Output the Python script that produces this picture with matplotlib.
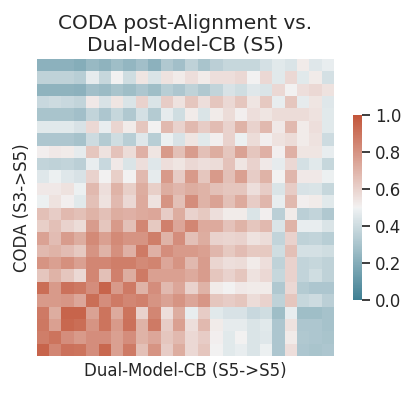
import numpy as np
import matplotlib
matplotlib.use("Agg")
import matplotlib.pyplot as plt
import seaborn as sns

title = "CODA post-Alignment vs.\nDual-Model-CB (S5)"
xlabel = "Dual-Model-CB (S5->S5)"
ylabel = "CODA (S3->S5)"

rows_left = [
    [0.22, 0.22, 0.22, 0.20, 0.25, 0.23, 0.27, 0.24, 0.28, 0.22, 0.32, 0.28],
    [0.36, 0.36, 0.36, 0.34, 0.47, 0.38, 0.50, 0.41, 0.54, 0.44, 0.55, 0.52],
    [0.23, 0.23, 0.23, 0.22, 0.28, 0.26, 0.30, 0.27, 0.31, 0.27, 0.34, 0.31],
    [0.39, 0.40, 0.39, 0.37, 0.53, 0.43, 0.54, 0.44, 0.60, 0.44, 0.62, 0.55],
    [0.30, 0.30, 0.30, 0.28, 0.37, 0.31, 0.38, 0.32, 0.42, 0.33, 0.47, 0.41],
    [0.46, 0.46, 0.46, 0.43, 0.58, 0.48, 0.59, 0.52, 0.64, 0.50, 0.68, 0.60],
    [0.31, 0.31, 0.31, 0.29, 0.40, 0.33, 0.41, 0.34, 0.45, 0.34, 0.49, 0.43],
    [0.51, 0.53, 0.52, 0.47, 0.64, 0.55, 0.65, 0.57, 0.71, 0.54, 0.78, 0.66],
    [0.37, 0.36, 0.37, 0.35, 0.48, 0.39, 0.53, 0.44, 0.56, 0.45, 0.56, 0.54],
    [0.45, 0.49, 0.45, 0.43, 0.60, 0.50, 0.61, 0.50, 0.68, 0.47, 0.78, 0.62],
    [0.53, 0.53, 0.55, 0.49, 0.68, 0.56, 0.70, 0.61, 0.72, 0.61, 0.72, 0.69],
    [0.49, 0.55, 0.51, 0.46, 0.66, 0.55, 0.68, 0.58, 0.73, 0.55, 0.80, 0.66],
    [0.66, 0.62, 0.68, 0.66, 0.70, 0.66, 0.72, 0.71, 0.73, 0.74, 0.62, 0.72],
    [0.61, 0.66, 0.60, 0.57, 0.77, 0.64, 0.78, 0.66, 0.84, 0.63, 0.86, 0.74],
    [0.75, 0.67, 0.77, 0.72, 0.83, 0.76, 0.83, 0.80, 0.80, 0.87, 0.70, 0.82],
    [0.68, 0.70, 0.67, 0.63, 0.80, 0.70, 0.81, 0.71, 0.88, 0.71, 0.82, 0.78],
    [0.80, 0.76, 0.81, 0.76, 0.84, 0.84, 0.87, 0.87, 0.83, 0.85, 0.74, 0.80],
    [0.64, 0.70, 0.64, 0.58, 0.84, 0.66, 0.86, 0.72, 0.88, 0.76, 0.76, 0.76],
    [0.92, 0.78, 0.91, 0.89, 0.82, 0.95, 0.78, 0.88, 0.70, 0.82, 0.68, 0.74],
    [0.78, 0.78, 0.79, 0.74, 0.92, 0.82, 0.88, 0.84, 0.86, 0.80, 0.75, 0.80],
    [0.88, 0.72, 0.95, 0.95, 0.75, 0.90, 0.73, 0.90, 0.60, 0.84, 0.56, 0.72],
    [0.89, 0.76, 0.94, 0.92, 0.80, 0.90, 0.78, 0.91, 0.70, 0.88, 0.62, 0.76],
    [0.87, 0.90, 0.82, 0.78, 0.82, 0.82, 0.76, 0.82, 0.70, 0.74, 0.64, 0.68],
    [0.95, 0.84, 0.91, 0.90, 0.82, 0.94, 0.76, 0.88, 0.66, 0.80, 0.62, 0.72],
]
rows_right = [
    [0.36, 0.30, 0.35, 0.38, 0.38, 0.38, 0.42, 0.46, 0.44, 0.52, 0.45, 0.48],
    [0.56, 0.52, 0.56, 0.56, 0.58, 0.50, 0.58, 0.46, 0.58, 0.46, 0.52, 0.42],
    [0.36, 0.32, 0.37, 0.43, 0.41, 0.45, 0.44, 0.58, 0.50, 0.56, 0.58, 0.55],
    [0.64, 0.56, 0.64, 0.58, 0.64, 0.54, 0.63, 0.48, 0.64, 0.47, 0.54, 0.45],
    [0.52, 0.44, 0.52, 0.57, 0.51, 0.56, 0.54, 0.57, 0.57, 0.57, 0.55, 0.46],
    [0.68, 0.62, 0.67, 0.60, 0.70, 0.60, 0.68, 0.53, 0.68, 0.52, 0.56, 0.46],
    [0.54, 0.46, 0.51, 0.60, 0.49, 0.57, 0.51, 0.55, 0.57, 0.52, 0.55, 0.40],
    [0.77, 0.66, 0.72, 0.64, 0.75, 0.64, 0.71, 0.51, 0.71, 0.54, 0.54, 0.48],
    [0.58, 0.56, 0.57, 0.65, 0.54, 0.60, 0.53, 0.47, 0.58, 0.42, 0.46, 0.38],
    [0.78, 0.64, 0.78, 0.66, 0.76, 0.62, 0.70, 0.50, 0.69, 0.53, 0.53, 0.49],
    [0.72, 0.70, 0.66, 0.64, 0.64, 0.56, 0.62, 0.44, 0.62, 0.43, 0.44, 0.38],
    [0.82, 0.70, 0.75, 0.66, 0.73, 0.62, 0.69, 0.48, 0.68, 0.51, 0.52, 0.46],
    [0.60, 0.63, 0.56, 0.52, 0.52, 0.44, 0.51, 0.35, 0.52, 0.35, 0.37, 0.32],
    [0.84, 0.73, 0.73, 0.65, 0.70, 0.64, 0.68, 0.44, 0.70, 0.48, 0.48, 0.44],
    [0.66, 0.72, 0.60, 0.59, 0.60, 0.55, 0.57, 0.37, 0.60, 0.36, 0.37, 0.34],
    [0.78, 0.76, 0.69, 0.63, 0.67, 0.63, 0.63, 0.41, 0.66, 0.42, 0.42, 0.41],
    [0.68, 0.77, 0.59, 0.56, 0.57, 0.52, 0.56, 0.36, 0.60, 0.37, 0.38, 0.36],
    [0.73, 0.77, 0.64, 0.60, 0.64, 0.55, 0.58, 0.38, 0.60, 0.37, 0.41, 0.36],
    [0.60, 0.70, 0.52, 0.50, 0.53, 0.52, 0.52, 0.32, 0.58, 0.33, 0.31, 0.31],
    [0.74, 0.79, 0.64, 0.62, 0.64, 0.57, 0.60, 0.36, 0.64, 0.38, 0.40, 0.35],
    [0.48, 0.62, 0.46, 0.43, 0.43, 0.39, 0.41, 0.27, 0.48, 0.27, 0.27, 0.29],
    [0.56, 0.68, 0.52, 0.47, 0.47, 0.44, 0.46, 0.31, 0.55, 0.31, 0.31, 0.29],
    [0.58, 0.62, 0.51, 0.46, 0.50, 0.44, 0.45, 0.31, 0.52, 0.32, 0.31, 0.30],
    [0.58, 0.64, 0.50, 0.46, 0.48, 0.44, 0.49, 0.31, 0.56, 0.31, 0.30, 0.31],
]

data = np.hstack([np.array(rows_left), np.array(rows_right)])

sns.set_theme(style="white")
fig = plt.figure(figsize=(4.12, 3.93), dpi=100)
ax = fig.add_axes([0.089, 0.094, 0.722, 0.756])
cax = fig.add_axes([0.857, 0.237, 0.022, 0.470])
cmap = sns.diverging_palette(220, 20, as_cmap=True)
sns.heatmap(data, ax=ax, cbar_ax=cax, cmap=cmap, vmin=0, vmax=1,
            xticklabels=False, yticklabels=False)
ax.set_title(title, fontsize=14.5)
ax.set_xlabel(xlabel, fontsize=12)
ax.set_ylabel(ylabel, fontsize=12)
cax.tick_params(labelsize=12)
fig.savefig("out.png", dpi=100)
